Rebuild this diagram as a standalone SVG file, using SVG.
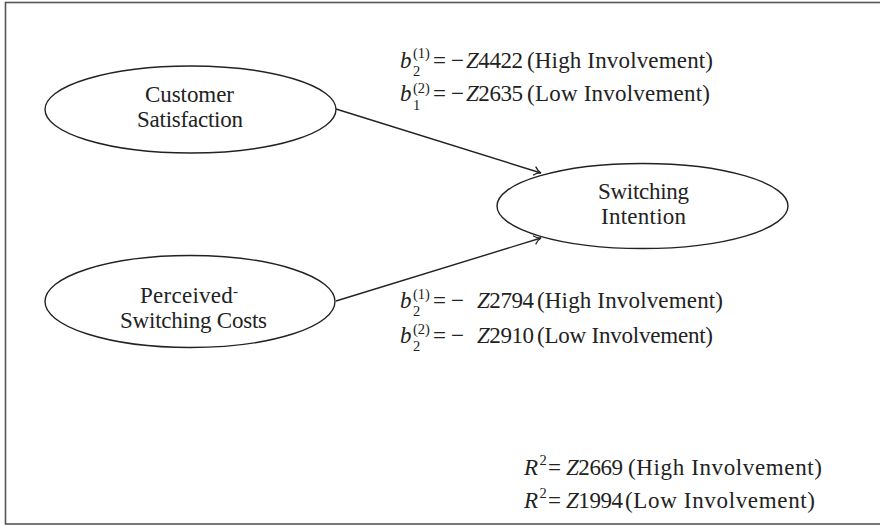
<svg xmlns="http://www.w3.org/2000/svg" width="880" height="526" viewBox="0 0 880 526">
<style>
text{font-family:"Liberation Serif","Times New Roman",serif;font-size:23px;fill:#222}
.n{text-anchor:middle}
.i{font-style:italic}
.s{font-size:14.5px}
.node{fill:#fff;stroke:#222;stroke-width:1.4}
.edge{fill:none;stroke:#222;stroke-width:1.4}
</style>
<defs>
<marker id="arr" markerWidth="12" markerHeight="12" refX="0" refY="0" viewBox="-8 -6 10 12" orient="auto" markerUnits="userSpaceOnUse">
<path d="M-7,-4.5 C-4.5,-1.8 -1.8,-0.4 0,0 C-1.8,0.4 -4.5,1.8 -7,4.5" fill="none" stroke="#222" stroke-width="1.3"/>
</marker>
</defs>
<rect x="5.5" y="2.5" width="885" height="521.5" fill="#fff" stroke="#555" stroke-width="1.6"/>
<g id="connectors">
<line class="edge" x1="336" y1="109" x2="541" y2="173" marker-end="url(#arr)"/>
<line class="edge" x1="336" y1="301" x2="541" y2="238" marker-end="url(#arr)"/>
</g>
<g id="customer-satisfaction">
<ellipse class="node" cx="190.5" cy="109.5" rx="145.5" ry="43.5"/>
<text class="n" x="189.5" y="101.5" textLength="89">Customer</text>
<text class="n" x="190" y="126.5" textLength="106">Satisfaction</text>
</g>
<g id="perceived-switching-costs">
<ellipse class="node" cx="190" cy="301.5" rx="145" ry="46"/>
<text x="140" y="302.5" textLength="98">Perceived<tspan font-size="15" dy="-7">-</tspan></text>
<text class="n" x="193.5" y="327.5" textLength="147">Switching Costs</text>
</g>
<g id="switching-intention">
<ellipse class="node" cx="642.5" cy="206" rx="145.5" ry="42.5"/>
<text class="n" x="643.5" y="199" textLength="91">Switching</text>
<text class="n" x="643.5" y="224" textLength="85">Intention</text>
</g>
<g id="label-top">
<text class="i" x="400" y="68">b</text>
<text class="s" x="413" y="76">2</text>
<text class="s" x="413" y="58">(1)</text>
<text x="433" y="68" textLength="14">=</text>
<text x="451" y="68" textLength="14">−</text>
<text x="466" y="68" textLength="57"><tspan class="i">Z</tspan>4422</text>
<text x="527" y="68" textLength="186">(High Involvement)</text>
<text class="i" x="400" y="101">b</text>
<text class="s" x="413" y="110">1</text>
<text class="s" x="413" y="93">(2)</text>
<text x="433" y="101" textLength="14">=</text>
<text x="451" y="101" textLength="14">−</text>
<text x="466" y="101" textLength="57"><tspan class="i">Z</tspan>2635</text>
<text x="527" y="101" textLength="183">(Low Involvement)</text>
</g>
<g id="label-bottom">
<text class="i" x="400" y="308">b</text>
<text class="s" x="413" y="316">2</text>
<text class="s" x="413" y="299">(1)</text>
<text x="433" y="308" textLength="14">=</text>
<text x="451" y="308" textLength="13">−</text>
<text x="477" y="308" textLength="57"><tspan class="i">Z</tspan>2794</text>
<text x="537" y="308" textLength="186">(High Involvement)</text>
<text class="i" x="400" y="343">b</text>
<text class="s" x="413" y="351">2</text>
<text class="s" x="413" y="334">(2)</text>
<text x="433" y="343" textLength="14">=</text>
<text x="451" y="343" textLength="13">−</text>
<text x="477" y="343" textLength="57"><tspan class="i">Z</tspan>2910</text>
<text x="537" y="343" textLength="176">(Low Involvement)</text>
</g>
<g id="label-r2">
<text class="i" x="524" y="475">R</text>
<text class="s" x="539.5" y="465">2</text>
<text x="548" y="475" textLength="13">=</text>
<text x="566" y="475" textLength="57"><tspan class="i">Z</tspan>2669</text>
<text x="628" y="475" textLength="194">(High Involvement)</text>
<text class="i" x="524" y="508">R</text>
<text class="s" x="539.5" y="498">2</text>
<text x="548" y="508" textLength="13">=</text>
<text x="566" y="508" textLength="57"><tspan class="i">Z</tspan>1994</text>
<text x="625" y="508" textLength="190">(Low Involvement)</text>
</g>
</svg>
